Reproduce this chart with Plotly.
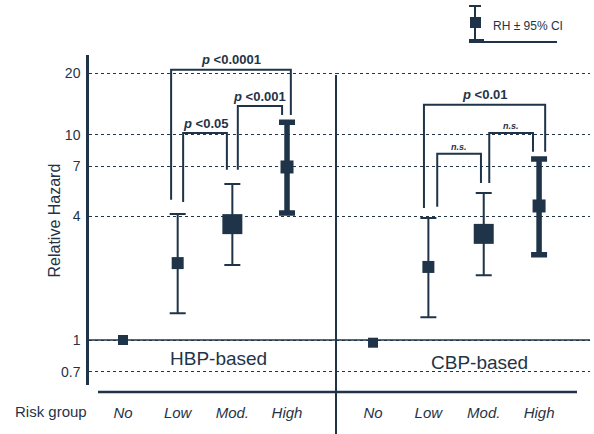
import numpy as np
import plotly.graph_objects as go

# ---------------- data ----------------
categories = ["No", "Low", "Mod.", "High"]
groups = ["HBP-based", "CBP-based"]

hbp_rh = [1.0, 2.37, 3.67, 6.97]
hbp_lo = [1.0, 1.35, 2.32, 4.16]
hbp_hi = [1.0, 4.11, 5.76, 11.5]

cbp_rh = [0.97, 2.27, 3.29, 4.50]
cbp_lo = [0.97, 1.29, 2.07, 2.60]
cbp_hi = [0.97, 3.93, 5.20, 7.62]

y_ticks = [0.7, 1, 4, 7, 10, 20]

# comparison bracket labels
hbp_brackets_label = ["p <0.0001", "p <0.05", "p <0.001"]
cbp_brackets_label = ["p <0.01", "n.s.", "n.s."]

# ---------------- style ----------------
INK = "#1f3448"
FONT = "Liberation Sans"
marker_sizes = [10, 12, 20, 13]
err_thick = [0, 2, 2, 5.5]
cap_w = [0, 8, 8, 8]

fig = go.Figure()

series = [(hbp_rh, hbp_lo, hbp_hi, "x", "y"), (cbp_rh, cbp_lo, cbp_hi, "x2", "y2")]
for rh, lo, hi, xa, ya in series:
    for i, cat in enumerate(categories):
        up = hi[i] - rh[i]
        dn = rh[i] - lo[i]
        fig.add_trace(go.Scatter(
            x=[i], y=[rh[i]], mode="markers", xaxis=xa, yaxis=ya,
            marker=dict(symbol="square", size=marker_sizes[i], color=INK),
            error_y=dict(type="data", array=[up], arrayminus=[dn], visible=up > 0,
                         thickness=err_thick[i], width=cap_w[i], color=INK),
            showlegend=False, hoverinfo="skip"))

# bracket geometry (positions only): left x, right x, top, left foot, right foot
hbp_br = [(0.88, 3.07, 20.75, 4.82, 12.5), (1.10, 1.90, 10.2, 4.71, 6.75), (2.10, 2.91, 13.8, 6.75, 12.5)]
cbp_br = [(0.92, 3.11, 14.0, 4.4, 8.26), (1.16, 1.95, 8.08, 4.46, 5.83), (2.10, 2.89, 10.2, 5.83, 8.26)]

annotations = []
for brs, labels, xa, ya in [(hbp_br, hbp_brackets_label, "x", "y"), (cbp_br, cbp_brackets_label, "x2", "y2")]:
    for (xl, xr, top, lf, rf), lab in zip(brs, labels):
        fig.add_trace(go.Scatter(x=[xl, xl, xr, xr], y=[lf, top, top, rf], mode="lines",
                                 xaxis=xa, yaxis=ya, line=dict(color=INK, width=2),
                                 showlegend=False, hoverinfo="skip"))
        if lab.startswith("p"):
            txt = "<b><i>p</i> " + lab[2:].replace("<", "&lt;") + "</b>"
            size, ys = 13, 10
        else:
            txt = "<b><i>" + lab + "</i></b>"
            size, ys = 9, 7
        annotations.append(dict(x=(xl + xr) / 2, y=np.log10(top), xref=xa, yref=ya, text=txt,
                                showarrow=False, yshift=ys, xanchor="center", yanchor="middle",
                                font=dict(family=FONT, size=size, color=INK)))

# plot geometry helpers (paper coords)
L, R, T, B, W, H = 89, 4, 55, 49, 594, 434
PW, PH = W - L - R, H - T - B
px = lambda v: (v - L) / PW
py = lambda v: (H - B - v) / PH
split = px(336)


def note(x, y, text, size, xanchor="center", angle=0):
    return dict(x=px(x), y=py(y), xref="paper", yref="paper", text=text, showarrow=False,
                xanchor=xanchor, yanchor="middle", textangle=angle,
                font=dict(family=FONT, size=size, color=INK))


annotations += [
    note(218, 358, groups[0], 19),
    note(479, 362, groups[1], 19),
    note(53.5, 221, "Relative Hazard", 16, angle=-90),
    note(13, 411, "Risk group", 15, xanchor="left"),
    note(491, 26, "RH ± 95% CI", 12, xanchor="left"),
]

line = dict(color=INK, width=2)
shapes = [
    # reference line at RH = 1
    dict(type="line", xref="x domain", yref="y", x0=0, x1=1, y0=1, y1=1, line=dict(color=INK, width=1.6)),
    dict(type="line", xref="x2 domain", yref="y2", x0=0, x1=1, y0=1, y1=1, line=dict(color=INK, width=1.6)),
    # divider
    dict(type="line", xref="paper", yref="paper", x0=split, x1=split, y0=py(75), y1=py(440), line=line),
    # bottom rule
    dict(type="line", xref="paper", yref="paper", x0=px(98), x1=px(577), y0=py(392), y1=py(392),
         line=dict(color=INK, width=2.5)),
    # legend glyph
    dict(type="line", xref="paper", yref="paper", x0=px(475), x1=px(475), y0=py(6), y1=py(41), line=line),
    dict(type="line", xref="paper", yref="paper", x0=px(469), x1=px(481), y0=py(6), y1=py(6), line=line),
    dict(type="rect", xref="paper", yref="paper", x0=px(470), x1=px(481), y0=py(17), y1=py(28),
         fillcolor=INK, line=dict(width=0)),
    dict(type="line", xref="paper", yref="paper", x0=px(469), x1=px(484), y0=py(40), y1=py(40), line=line),
    dict(type="line", xref="paper", yref="paper", x0=px(469), x1=px(557), y0=py(42), y1=py(42), line=line),
]

ylo = -(385 - 340) / 205.2
yhi = (340 - 55) / 205.2

yax = dict(type="log", range=[ylo, yhi], tickvals=y_ticks, ticktext=[str(v) for v in y_ticks],
           showgrid=True, gridcolor=INK, griddash="dot", gridwidth=1.2, zeroline=False,
           ticks="outside", ticklen=3, tickcolor="rgba(0,0,0,0)",
           tickfont=dict(family=FONT, size=14, color=INK))

xax = dict(tickvals=[0, 1, 2, 3], ticktext=categories, showgrid=False, zeroline=False,
           showline=False, ticks="outside", ticklen=14, tickcolor="rgba(0,0,0,0)",
           tickfont=dict(family=FONT, size=15, color=INK, style="italic"))

fig.update_layout(
    width=W, height=H, margin=dict(l=L, r=R, t=T, b=B),
    paper_bgcolor="white", plot_bgcolor="white", showlegend=False,
    xaxis=dict(**xax, domain=[0, split], range=[-0.622, 3.896], anchor="y"),
    xaxis2=dict(**xax, domain=[split, 1], range=[-0.669, 3.92], anchor="y2"),
    yaxis=dict(**yax, showline=True, linecolor=INK, linewidth=2.5, anchor="x"),
    yaxis2=dict(**{**yax, "showticklabels": False}, matches="y", anchor="x2", showline=False),
    annotations=annotations, shapes=shapes,
)

fig.write_html("out.html")
